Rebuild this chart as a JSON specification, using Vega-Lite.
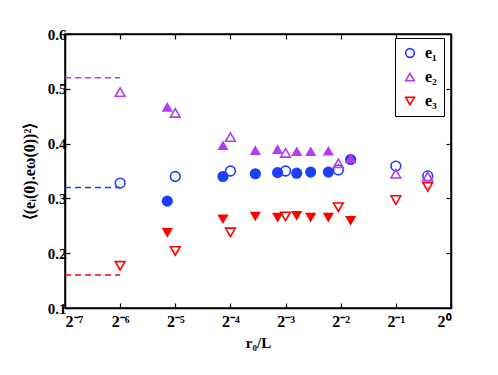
{
  "$schema": "https://vega.github.io/schema/vega-lite/v6.json",
  "width": 386,
  "height": 274,
  "autosize": {"type": "none"},
  "padding": {"left": 65, "top": 34, "right": 47, "bottom": 67},
  "background": "white",
  "config": {
    "view": {"stroke": "black", "strokeWidth": 1.5},
    "font": "Liberation Serif",
    "axis": {
      "grid": false,
      "domainColor": "black",
      "domainWidth": 1.5,
      "tickColor": "black",
      "tickWidth": 1.2,
      "tickSize": -5,
      "labelFont": "Liberation Serif",
      "labelFontWeight": "bold",
      "labelFontSize": 15,
      "labelColor": "black",
      "titleFont": "Liberation Serif",
      "titleFontWeight": "bold",
      "titleFontSize": 15,
      "titleColor": "black"
    }
  },
  "resolve": {"scale": {"color": "independent", "shape": "independent"}},
  "datasets": {
    "filled": [
      {"r": 0.02826, "v": 0.295, "series": "e₁"},
      {"r": 0.05692, "v": 0.340, "series": "e₁"},
      {"r": 0.0855, "v": 0.345, "series": "e₁"},
      {"r": 0.1131, "v": 0.347, "series": "e₁"},
      {"r": 0.1438, "v": 0.346, "series": "e₁"},
      {"r": 0.1714, "v": 0.348, "series": "e₁"},
      {"r": 0.2141, "v": 0.348, "series": "e₁"},
      {"r": 0.2832, "v": 0.371, "series": "e₁"},
      {"r": 0.02826, "v": 0.467, "series": "e₂"},
      {"r": 0.05692, "v": 0.397, "series": "e₂"},
      {"r": 0.0855, "v": 0.388, "series": "e₂"},
      {"r": 0.1131, "v": 0.390, "series": "e₂"},
      {"r": 0.1438, "v": 0.386, "series": "e₂"},
      {"r": 0.1714, "v": 0.386, "series": "e₂"},
      {"r": 0.2141, "v": 0.387, "series": "e₂"},
      {"r": 0.2832, "v": 0.373, "series": "e₂"},
      {"r": 0.02826, "v": 0.237, "series": "e₃"},
      {"r": 0.05692, "v": 0.262, "series": "e₃"},
      {"r": 0.0855, "v": 0.267, "series": "e₃"},
      {"r": 0.1131, "v": 0.265, "series": "e₃"},
      {"r": 0.1438, "v": 0.268, "series": "e₃"},
      {"r": 0.1714, "v": 0.265, "series": "e₃"},
      {"r": 0.2141, "v": 0.265, "series": "e₃"},
      {"r": 0.2832, "v": 0.259, "series": "e₃"}
    ],
    "open": [
      {"r": 0.015625, "v": 0.328, "series": "e₁"},
      {"r": 0.03125, "v": 0.340, "series": "e₁"},
      {"r": 0.0625, "v": 0.350, "series": "e₁"},
      {"r": 0.125, "v": 0.350, "series": "e₁"},
      {"r": 0.2427, "v": 0.352, "series": "e₁"},
      {"r": 0.5, "v": 0.359, "series": "e₁"},
      {"r": 0.7464, "v": 0.341, "series": "e₁"},
      {"r": 0.015625, "v": 0.494, "series": "e₂"},
      {"r": 0.03125, "v": 0.456, "series": "e₂"},
      {"r": 0.0625, "v": 0.412, "series": "e₂"},
      {"r": 0.125, "v": 0.383, "series": "e₂"},
      {"r": 0.2427, "v": 0.364, "series": "e₂"},
      {"r": 0.5, "v": 0.345, "series": "e₂"},
      {"r": 0.7464, "v": 0.340, "series": "e₂"},
      {"r": 0.015625, "v": 0.177, "series": "e₃"},
      {"r": 0.03125, "v": 0.204, "series": "e₃"},
      {"r": 0.0625, "v": 0.238, "series": "e₃"},
      {"r": 0.125, "v": 0.267, "series": "e₃"},
      {"r": 0.2427, "v": 0.284, "series": "e₃"},
      {"r": 0.5, "v": 0.297, "series": "e₃"},
      {"r": 0.7464, "v": 0.321, "series": "e₃"}
    ],
    "limits": [
      {"r": 0.0078125, "r2": 0.015625, "v": 0.52, "series": "e₂"},
      {"r": 0.0078125, "r2": 0.015625, "v": 0.32, "series": "e₁"},
      {"r": 0.0078125, "r2": 0.015625, "v": 0.16, "series": "e₃"}
    ]
  },
  "layer": [
    {
      "data": {"name": "limits"},
      "mark": {"type": "rule", "strokeDash": [6, 4], "strokeWidth": 1.5},
      "encoding": {
        "x": {"field": "r", "type": "quantitative",
          "scale": {"type": "log", "base": 2, "domain": [0.0078125, 1], "nice": false},
          "axis": {
            "orient": "bottom",
            "values": [0.0078125, 0.015625, 0.03125, 0.0625, 0.125, 0.25, 0.5, 1],
            "labelExpr": "['2⁻⁷','2⁻⁶','2⁻⁵','2⁻⁴','2⁻³','2⁻²','2⁻¹','2⁰'][round(log(datum.value)/LN2)+7]",
            "labelPadding": 10,
            "labelFontSize": 16,
            "title": "r₀/L",
            "titlePadding": 6
          }
        },
        "x2": {"field": "r2"},
        "y": {"field": "v", "type": "quantitative",
          "scale": {"domain": [0.1, 0.6], "nice": false, "zero": false},
          "axis": {
            "orient": "left",
            "values": [0.1, 0.2, 0.3, 0.4, 0.5, 0.6],
            "format": ".1f",
            "labelPadding": 4,
            "title": "⟨(eᵢ(0).eω(0))²⟩",
            "titleFontSize": 16,
            "titlePadding": 10
          }
        },
        "color": {"field": "series", "type": "nominal",
          "scale": {"domain": ["e₁", "e₂", "e₃"], "range": ["#1f3dff", "#b23cf5", "#ff0000"]},
          "legend": null}
      }
    },
    {
      "mark": {"type": "rule", "color": "black", "strokeDash": [9, 3, 2, 3], "strokeWidth": 1.3},
      "encoding": {"y": {"datum": 0.3333, "type": "quantitative", "axis": null}}
    },
    {
      "data": {"name": "filled"},
      "mark": {"type": "point", "filled": true, "opacity": 1, "size": 125},
      "encoding": {
        "x": {"field": "r", "type": "quantitative", "axis": null},
        "y": {"field": "v", "type": "quantitative", "axis": null},
        "color": {"field": "series", "type": "nominal",
          "scale": {"domain": ["e₁", "e₂", "e₃"], "range": ["#1f3dff", "#b23cf5", "#ff0000"]},
          "legend": null},
        "shape": {"field": "series", "type": "nominal",
          "scale": {"domain": ["e₁", "e₂", "e₃"], "range": ["circle", "triangle-up", "triangle-down"]},
          "legend": null}
      }
    },
    {
      "data": {"name": "open"},
      "mark": {"type": "point", "filled": false, "opacity": 1, "size": 95, "strokeWidth": 1.6},
      "encoding": {
        "x": {"field": "r", "type": "quantitative", "axis": null},
        "y": {"field": "v", "type": "quantitative", "axis": null},
        "color": {"field": "series", "type": "nominal",
          "scale": {"domain": ["e₁", "e₂", "e₃"], "range": ["#1f3dff", "#b23cf5", "#ff0000"]},
          "legend": {
            "orient": "none", "legendX": 330, "legendY": 4,
            "title": null,
            "strokeColor": "black", "fillColor": "white",
            "padding": 7,
            "rowPadding": 8,
            "symbolSize": 75, "symbolStrokeWidth": 1.6,
            "labelFont": "Liberation Serif", "labelFontWeight": "bold",
            "labelFontSize": 16, "labelColor": "black", "labelOffset": 7
          }},
        "shape": {"field": "series", "type": "nominal",
          "scale": {"domain": ["e₁", "e₂", "e₃"], "range": ["circle", "triangle-up", "triangle-down"]}}
      }
    },
    {
      "mark": {"type": "rule", "opacity": 0},
      "encoding": {
        "x": {"datum": 0.0078125, "type": "quantitative",
          "axis": {"orient": "top", "values": [0.0078125, 0.015625, 0.03125, 0.0625, 0.125, 0.25, 0.5, 1], "labels": false, "title": null}},
        "y": {"datum": 0.1, "type": "quantitative",
          "axis": {"orient": "right", "values": [0.1, 0.2, 0.3, 0.4, 0.5, 0.6], "labels": false, "title": null}}
      }
    }
  ]
}
